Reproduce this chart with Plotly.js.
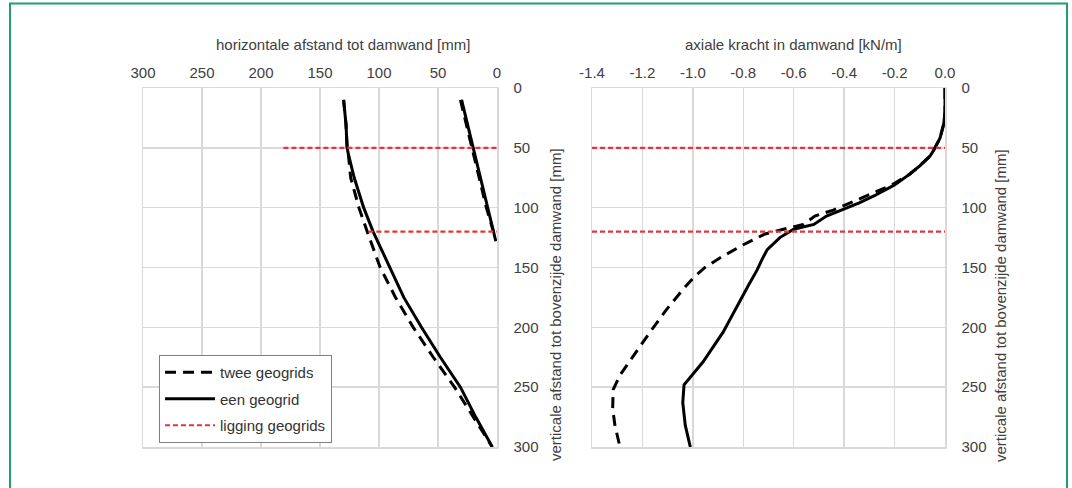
<!DOCTYPE html>
<html>
<head>
<meta charset="utf-8">
<script src="https://cdn.plot.ly/plotly-3.0.1.min.js"></script>
<style>
  html, body { margin: 0; padding: 0; background: #ffffff; }
  #chart { width: 1072px; height: 488px; }
</style>
</head>
<body>
<div id="chart"></div>
<script>
// ---------- data ----------
// Left panel: horizontale afstand tot damwand [mm] vs verticale afstand [mm]
const eenLeftA_depth  = [10, 30, 50, 55, 75, 100, 120, 150, 175, 200, 225, 250, 275, 300];
const eenLeftA_x      = [130, 128, 127, 126, 121, 113, 105, 91, 79, 64, 48, 31, 18, 4];
const eenLeftB_depth  = [10, 30, 50, 75, 100, 120, 128];
const eenLeftB_x      = [30, 25, 20, 14, 8, 3, 1];

const tweeLeftA_depth = [10, 30, 50, 55, 75, 100, 120, 150, 175, 200, 225, 250, 275, 300];
const tweeLeftA_x     = [130, 128, 127, 126, 124, 117, 110, 99, 86, 71, 54, 36, 20, 4];
const tweeLeftB_depth = [10, 30, 50, 75, 100, 120];
const tweeLeftB_x     = [31, 26, 21, 15, 9, 3];

// Right panel: axiale kracht in damwand [kN/m]
const eenRight_depth  = [0, 20, 30, 42, 52, 57, 65, 72, 81, 90, 96, 107, 114, 118, 125, 135, 143, 152, 165, 179, 204, 229, 248, 263, 282, 300];
const eenRight_x      = [0.0, 0.0, -0.005, -0.02, -0.045, -0.06, -0.1, -0.14, -0.2, -0.28, -0.34, -0.47, -0.52, -0.6, -0.655, -0.705, -0.725, -0.745, -0.78, -0.815, -0.88, -0.96, -1.035, -1.04, -1.03, -1.01];

const tweeRight_depth = [0, 20, 30, 42, 52, 57, 65, 72, 81, 90, 96, 102, 107, 114, 118, 122, 131, 142, 150, 158, 166, 185, 204, 224, 240, 252, 268, 282, 300];
const tweeRight_x     = [0.0, 0.0, -0.005, -0.02, -0.045, -0.06, -0.1, -0.14, -0.21, -0.31, -0.377, -0.443, -0.516, -0.562, -0.641, -0.714, -0.8, -0.893, -0.952, -0.995, -1.03, -1.104, -1.17, -1.236, -1.289, -1.316, -1.318, -1.309, -1.289];

// Geogrid positions (ligging geogrids)
const geogridDepths   = [50, 120];
const geogridLeftFrom = [181, 109];
const geogridRightFrom = [-1.4, -1.4];

// Tick labels
const leftXTicks   = [300, 250, 200, 150, 100, 50, 0];
const rightXTicks  = [-1.4, -1.2, -1.0, -0.8, -0.6, -0.4, -0.2, 0.0];
const rightXLabels = ['-1.4', '-1.2', '-1.0', '-0.8', '-0.6', '-0.4', '-0.2', '0.0'];
const yTicks       = [0, 50, 100, 150, 200, 250, 300];

// Text
const leftXTitle  = 'horizontale afstand tot damwand [mm]';
const rightXTitle = 'axiale kracht in damwand [kN/m]';
const yTitle      = 'verticale afstand tot bovenzijde damwand [mm]';
const nameTwee    = 'twee geogrids';
const nameEen     = 'een geogrid';
const nameLigging = 'ligging geogrids';

// ---------- styles ----------
const FONT = '"Liberation Sans", Arial, sans-serif';
const TXT = '#404040';
const GRID = '#d9d9d9';
const BLACK = '#000000';
const RED = '#e0383e';
const dashed = {color: BLACK, width: 3, dash: '11px,7px'};
const solid = {color: BLACK, width: 3};
const redLine = {color: RED, width: 2.2, dash: '5px,3px'};

const traces = [];
// twee geogrids (dashed)
traces.push({x: tweeLeftA_x, y: tweeLeftA_depth, xaxis: 'x', yaxis: 'y', mode: 'lines', line: dashed,
             name: nameTwee, legendgroup: 'g1', showlegend: true});
traces.push({x: tweeLeftB_x, y: tweeLeftB_depth, xaxis: 'x', yaxis: 'y', mode: 'lines', line: dashed,
             name: nameTwee, legendgroup: 'g1', showlegend: false});
traces.push({x: tweeRight_x, y: tweeRight_depth, xaxis: 'x2', yaxis: 'y2', mode: 'lines', line: dashed,
             name: nameTwee, legendgroup: 'g1', showlegend: false});
// een geogrid (solid)
traces.push({x: eenLeftA_x, y: eenLeftA_depth, xaxis: 'x', yaxis: 'y', mode: 'lines', line: solid,
             name: nameEen, legendgroup: 'g2', showlegend: true});
traces.push({x: eenLeftB_x, y: eenLeftB_depth, xaxis: 'x', yaxis: 'y', mode: 'lines', line: solid,
             name: nameEen, legendgroup: 'g2', showlegend: false});
traces.push({x: eenRight_x, y: eenRight_depth, xaxis: 'x2', yaxis: 'y2', mode: 'lines', line: solid,
             name: nameEen, legendgroup: 'g2', showlegend: false});
// ligging geogrids (red)
geogridDepths.forEach((d, i) => {
  traces.push({x: [geogridLeftFrom[i], 0], y: [d, d], xaxis: 'x', yaxis: 'y', mode: 'lines', line: redLine,
               name: nameLigging, legendgroup: 'g3', showlegend: i === 0});
  traces.push({x: [geogridRightFrom[i], 0], y: [d, d], xaxis: 'x2', yaxis: 'y2', mode: 'lines', line: redLine,
               name: nameLigging, legendgroup: 'g3', showlegend: false});
});

// ---------- layout ----------
const W = 1072, H = 488;
const L = 143, R = 127, T = 88, B = 41;
const pw = W - L - R, ph = H - T - B;
const px = v => (v - L) / pw;          // pixel x -> paper
const py = v => (H - B - v) / ph;      // pixel y -> paper

const axCommon = {
  showgrid: true, gridcolor: GRID, gridwidth: 1.5,
  showline: true, linecolor: GRID, linewidth: 1.5, mirror: true,
  zeroline: false, ticks: '', tickfont: {family: FONT, size: 15, color: TXT},
  fixedrange: true
};

const layout = {
  width: W, height: H,
  margin: {l: L, r: R, t: T, b: B},
  paper_bgcolor: '#ffffff', plot_bgcolor: '#ffffff',
  font: {family: FONT, size: 15, color: TXT},
  showlegend: true,
  legend: {
    x: px(159), y: py(355), xanchor: 'left', yanchor: 'top',
    bgcolor: '#ffffff', bordercolor: '#808080', borderwidth: 1,
    font: {family: FONT, size: 15, color: '#333333'},
    traceorder: 'grouped', tracegroupgap: 4, itemwidth: 50
  },
  xaxis: Object.assign({}, axCommon, {
    domain: [0, px(497)], range: [300, 0], side: 'top', anchor: 'y',
    tickvals: leftXTicks, ticklabelstandoff: 3
  }),
  yaxis: Object.assign({}, axCommon, {
    domain: [0, 1], range: [300, 0], side: 'right', anchor: 'x',
    tickvals: yTicks, ticklabelstandoff: 12
  }),
  xaxis2: Object.assign({}, axCommon, {
    domain: [px(592), 1], range: [-1.4, 0], side: 'top', anchor: 'y2',
    tickvals: rightXTicks, ticktext: rightXLabels, ticklabelstandoff: 3
  }),
  yaxis2: Object.assign({}, axCommon, {
    domain: [0, 1], range: [300, 0], side: 'right', anchor: 'x2',
    tickvals: yTicks, ticklabelstandoff: 12
  }),
  annotations: [
    {text: leftXTitle, xref: 'paper', yref: 'paper', x: px(343), y: py(44), xanchor: 'center', yanchor: 'middle',
     showarrow: false, font: {family: FONT, size: 15, color: TXT}},
    {text: rightXTitle, xref: 'paper', yref: 'paper', x: px(793), y: py(44), xanchor: 'center', yanchor: 'middle',
     showarrow: false, font: {family: FONT, size: 15, color: TXT}},
    {text: yTitle, xref: 'paper', yref: 'paper', x: px(555), y: py(305), xanchor: 'center', yanchor: 'middle',
     textangle: -90, showarrow: false, font: {family: FONT, size: 15, color: TXT}},
    {text: yTitle, xref: 'paper', yref: 'paper', x: px(1000), y: py(305), xanchor: 'center', yanchor: 'middle',
     textangle: -90, showarrow: false, font: {family: FONT, size: 15, color: TXT}}
  ],
  shapes: [
    {type: 'rect', xref: 'paper', yref: 'paper', x0: px(10), x1: px(1067), y0: py(500), y1: py(3.5),
     line: {color: '#1f9e6e', width: 2}, fillcolor: 'rgba(0,0,0,0)', layer: 'below'}
  ]
};

Plotly.newPlot('chart', traces, layout, {displayModeBar: false, staticPlot: true});
</script>
</body>
</html>
